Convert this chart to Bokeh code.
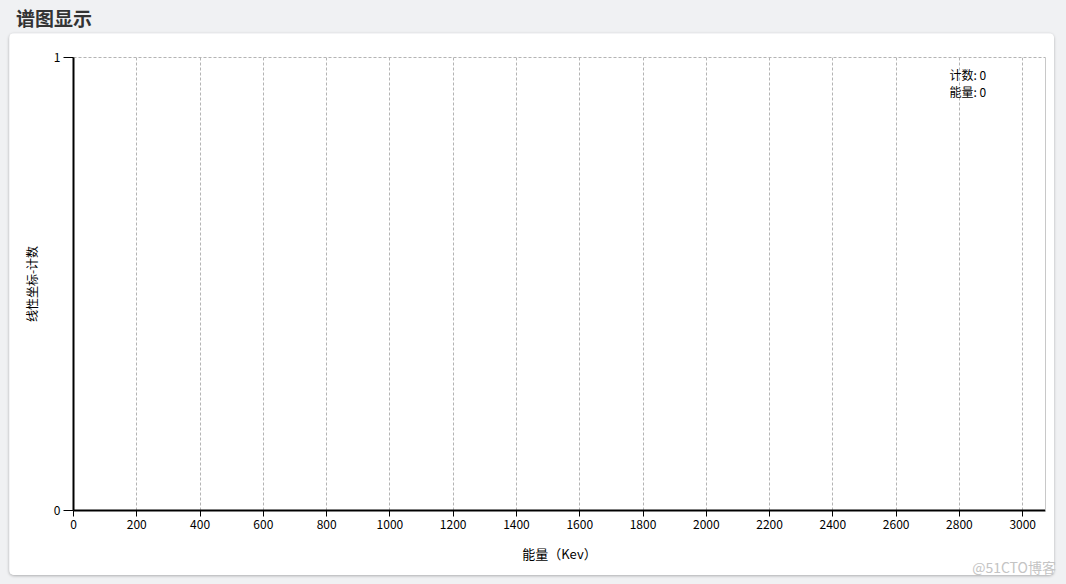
from bokeh.plotting import figure
from bokeh.models import Range1d, FixedTicker, LinearAxis, Label, Div
from bokeh.layouts import column
from bokeh.embed import file_html
from bokeh.resources import INLINE

# ---- data ----
title_text = "谱图显示"
x_axis_title = "能量（Kev）"
y_axis_title = "线性坐标-计数"
x_ticks = [0, 200, 400, 600, 800, 1000, 1200, 1400, 1600, 1800, 2000,
           2200, 2400, 2600, 2800, 3000]
y_ticks = [0, 1]
x_min, x_max = 0, 3072
y_min, y_max = 0, 1
readout_names = ["计数", "能量"]
readout_values = [0, 0]
watermark = "@51CTO博客"

FONT = "Noto Sans CJK SC"
PAGE_BG = "#f0f1f3"

title_div = Div(text=title_text, width=300, height=33, margin=(0, 0, 0, 16),
                styles={"font-size": "19px", "font-weight": "bold", "color": "#333333",
                        "font-family": FONT, "line-height": "36px"})

p = figure(width=1045, height=542, output_backend="svg", toolbar_location=None,
           x_range=Range1d(x_min, x_max), y_range=Range1d(y_min, y_max),
           min_border_left=64, min_border_right=9, min_border_top=24, min_border_bottom=65,
           border_fill_color="white", background_fill_color="white",
           outline_line_color=None, margin=(0, 0, 0, 9),
           styles={"border-radius": "5px", "box-shadow": "0 1px 3px rgba(0,0,0,0.28)",
                   "overflow": "hidden"})

# grid
p.xgrid.ticker = FixedTicker(ticks=x_ticks)
p.ygrid.ticker = FixedTicker(ticks=y_ticks)
for g in (p.xgrid, p.ygrid):
    g.grid_line_color = "#b4b4b4"
    g.grid_line_dash = "3 2"
    g.grid_line_width = 1

# axes
xa = p.xaxis[0]
xa.ticker = FixedTicker(ticks=x_ticks)
xa.axis_label = x_axis_title
xa.axis_line_width = 2
xa.axis_line_color = "black"
xa.major_tick_out = 6
xa.major_tick_in = 0
xa.major_tick_line_color = "black"
xa.minor_tick_line_color = None
xa.major_label_standoff = 3
xa.axis_label_standoff = 12
xa.major_label_text_font = FONT
xa.major_label_text_font_size = "12px"
xa.major_label_text_color = "black"
xa.axis_label_text_font = FONT
xa.axis_label_text_font_size = "13px"
xa.axis_label_text_font_style = "normal"
xa.axis_label_text_color = "black"

ya = p.yaxis[0]
ya.ticker = FixedTicker(ticks=y_ticks)
ya.axis_label = y_axis_title
ya.axis_line_width = 2
ya.axis_line_color = "black"
ya.major_tick_out = 10
ya.major_tick_in = 0
ya.major_tick_line_color = "black"
ya.minor_tick_line_color = None
ya.major_label_standoff = 3
ya.axis_label_standoff = 11
ya.major_label_text_font = FONT
ya.major_label_text_font_size = "12px"
ya.major_label_text_color = "black"
ya.axis_label_text_font = FONT
ya.axis_label_text_font_size = "12px"
ya.axis_label_text_font_style = "normal"
ya.axis_label_text_color = "black"

# right frame edge (solid light grey) and top frame edge (dashed grid style)
ra = LinearAxis(ticker=FixedTicker(ticks=[]), axis_line_color="#c8c8c8", axis_line_width=1,
                major_tick_line_color=None, minor_tick_line_color=None)
p.add_layout(ra, "right")
ta = LinearAxis(ticker=FixedTicker(ticks=[]), axis_line_color="#b4b4b4", axis_line_width=1,
                axis_line_dash="3 2",
                major_tick_line_color=None, minor_tick_line_color=None)
p.add_layout(ta, "above")

# readouts
for i, (n, v) in enumerate(zip(readout_names, readout_values)):
    p.add_layout(Label(x=940, y=41 + 17 * i, x_units="canvas", y_units="canvas",
                       text=f"{n}: {v}", text_font=FONT, text_font_size="12px",
                       text_color="black", text_baseline="middle", text_align="left"))

# watermark
wm_div = Div(text=watermark, width=100, height=18, margin=(-17, 0, 0, 956),
             styles={"font-size": "14px", "color": "#c4c4c4", "font-family": FONT,
                     "line-height": "18px", "text-align": "right",
                     "position": "relative", "z-index": "2"})

root = column(title_div, p, wm_div, width=1066, height=584, spacing=0,
              styles={"background-color": PAGE_BG})

open("out.html", "w").write(file_html(root, INLINE))
